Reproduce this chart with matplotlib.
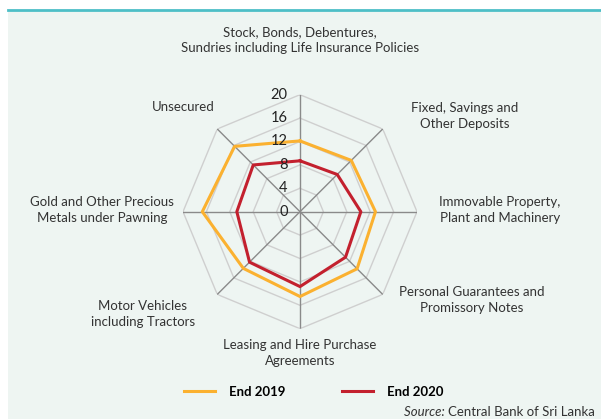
import numpy as np
import matplotlib
matplotlib.use("Agg")
import matplotlib.pyplot as plt
from matplotlib.patches import Rectangle
from matplotlib.lines import Line2D

# Categorie (in senso orario partendo dall'alto)
categories = [
    "Stock, Bonds, Debentures,\nSundries including Life Insurance Policies",
    "Fixed, Savings and\nOther Deposits",
    "Immovable Property,\nPlant and Machinery",
    "Personal Guarantees and\nPromissory Notes",
    "Leasing and Hire Purchase\nAgreements",
    "Motor Vehicles\nincluding Tractors",
    "Gold and Other Precious\nMetals under Pawning",
    "Unsecured",
]
end_2019 = [12.1, 12.4, 12.9, 13.8, 14.5, 13.7, 16.7, 15.8]
end_2020 = [8.7, 9.0, 10.4, 11.0, 12.8, 12.2, 10.8, 11.3]
r_ticks = [0, 4, 8, 12, 16, 20]

W, H = 601, 419
FONT = "Lato"
fig = plt.figure(figsize=(W / 100, H / 100), dpi=100)
fig.patch.set_facecolor("white")

# Pannello di sfondo e linea superiore
fig.patches.append(Rectangle((8 / W, 0), 1 - 8 / W, 1 - 10 / H, transform=fig.transFigure,
                             facecolor="#eef5f2", edgecolor="none", zorder=-5))
fig.lines.append(Line2D([8 / W, 1], [1 - 10 / H, 1 - 10 / H], transform=fig.transFigure,
                        color="#4dbfc7", lw=2, zorder=-4))

cx, cy, R = 300, 211.7, 117
ax = fig.add_axes([(cx - R) / W, (H - cy - R) / H, 2 * R / W, 2 * R / H], projection="polar")
ax.set_facecolor("none")
ax.set_theta_offset(np.pi / 2)
ax.set_theta_direction(-1)
ax.set_ylim(0, 20)
ax.grid(False)
ax.spines["polar"].set_visible(False)
ax.set_xticks([])
ax.set_yticks([])

n = len(categories)
angles = np.arange(n) * 2 * np.pi / n
closed = np.append(angles, angles[0])

# Griglia ottagonale
for r in r_ticks[1:]:
    ax.plot(closed, [r] * (n + 1), color="#cfcfcf", lw=1, zorder=1)
for a in angles:
    ax.plot([a, a], [0, 20], color="#8a8a8a", lw=1, zorder=2)

# Serie
ax.plot(closed, end_2019 + end_2019[:1], color="#fbb130", lw=2.2, zorder=3)
ax.plot(closed, end_2020 + end_2020[:1], color="#c3202e", lw=2.2, zorder=4)

# Etichette radiali
for r in r_ticks:
    ax.annotate(str(r), (0, r), xytext=(-9, 0), textcoords="offset points", ha="right",
                va="center", fontsize=10.5, color="#222222", family=FONT, zorder=5)

# Etichette delle categorie (coordinate in pixel dell'immagine)
label_pos = [(300, 40), (465, 116), (500, 210), (472, 300),
             (300, 353), (143, 314), (102, 210), (183, 107)]
for text, (x, y) in zip(categories, label_pos):
    fig.text(x / W, 1 - y / H, text, ha="center", va="center", fontsize=9.5, color="#333333",
             family=FONT, linespacing=1.35)

# Legenda
fig.legend(handles=[Line2D([], [], color="#fbb130", lw=2.2, label="End 2019"),
                    Line2D([], [], color="#c3202e", lw=2.2, label="End 2020")],
           loc="center", bbox_to_anchor=(314 / W, 1 - 392 / H), ncol=2, frameon=False,
           handlelength=2.3, handletextpad=1.1, columnspacing=4.3,
           prop={"family": FONT, "weight": "bold", "size": 9.5})

# Fonte: "Source:" in corsivo
src = fig.text(595 / W, 1 - 412 / H, "Central Bank of Sri Lanka", ha="right", va="center",
               fontsize=9.5, color="#333333", family=FONT)
fig.canvas.draw()
bb = src.get_window_extent()
fig.text(bb.x0 / W, 1 - 412 / H, "Source: ", ha="right", va="center", fontsize=9.5,
         color="#333333", family=FONT, style="italic")

fig.savefig("out.png", dpi=100)
